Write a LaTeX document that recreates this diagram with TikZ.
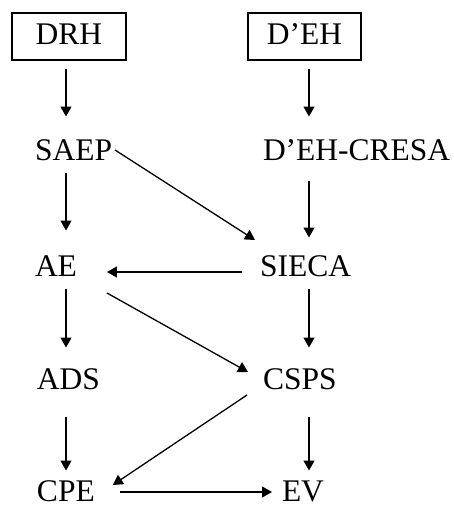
\documentclass[tikz,border=0pt]{standalone}
\usepackage{fontspec}
\setmainfont{Liberation Serif}
\usetikzlibrary{arrows.meta,calc}
\begin{document}
\begin{tikzpicture}[x=1pt,y=1pt,
  lbl/.style={font=\fontsize{31.5}{32}\selectfont, inner sep=0pt, outer sep=0pt, text height=21pt, text depth=0pt, anchor=west},
  topbox/.style={draw, line width=1.3pt, font=\fontsize{31.5}{32}\selectfont, inner sep=0pt, text height=21pt, text depth=6pt, minimum height=47pt},
  arr/.style={line width=1.3pt, -{Triangle[length=10pt,width=11pt]}}]
\useasboundingbox (0,0) rectangle (454,-507);
\node[topbox, minimum width=114pt] (drh) at (69,-36.5) {DRH};
\node[topbox, minimum width=113pt] (deh) at (304.5,-36.5) {D’EH};
\node[lbl] (saep) at (35,-150) {SAEP};
\node[lbl] (cresa) at (263,-150) {D’EH-CRESA};
\node[lbl] (ae) at (35,-266) {AE};
\node[lbl] (sieca) at (260,-266) {SIECA};
\node[lbl] (ads) at (37,-379) {ADS};
\node[lbl] (csps) at (263,-379) {CSPS};
\node[lbl] (cpe) at (37,-491) {CPE};
\node[lbl] (ev) at (282,-491) {EV};
\coordinate (L) at (66,0);
\coordinate (R) at (309,0);
% vertical connectors
\draw[arr, shorten <=8pt, shorten >=23pt] (drh.south -| L) -- (saep.north -| L);
\draw[arr, shorten <=12pt, shorten >=25pt] (saep.south -| L) -- (ae.north -| L);
\draw[arr, shorten <=12pt, shorten >=21pt] (ae.south -| L) -- (ads.north -| L);
\draw[arr, shorten <=27pt, shorten >=10pt] (ads.south -| L) -- (cpe.north -| L);
\draw[arr, shorten <=8pt, shorten >=23pt] (deh.south -| R) -- (cresa.north -| R);
\draw[arr, shorten <=20pt, shorten >=18pt] (cresa.south -| R) -- (sieca.north -| R);
\draw[arr, shorten <=12pt, shorten >=21pt] (sieca.south -| R) -- (csps.north -| R);
\draw[arr, shorten <=27pt, shorten >=10pt] (csps.south -| R) -- (ev.north -| R);
% other connectors
\draw[arr] ($(saep.east)+(3,0)$) -- ($(sieca.west)+(-5,26)$);
\draw[arr] ($(sieca.west)+(-18,-6)$) -- ($(ae.east)+(30,-6)$);
\draw[arr] ($(ae.east)+(30,-27)$) -- ($(csps.west)+(-15,7)$);
\draw[arr] ($(csps.west)+(-16,-16)$) -- ($(cpe.east)+(18,6)$);
\draw[arr] ($(cpe.east)+(25,-1)$) -- ($(ev.west)+(-10,-1)$);
\end{tikzpicture}
\end{document}
